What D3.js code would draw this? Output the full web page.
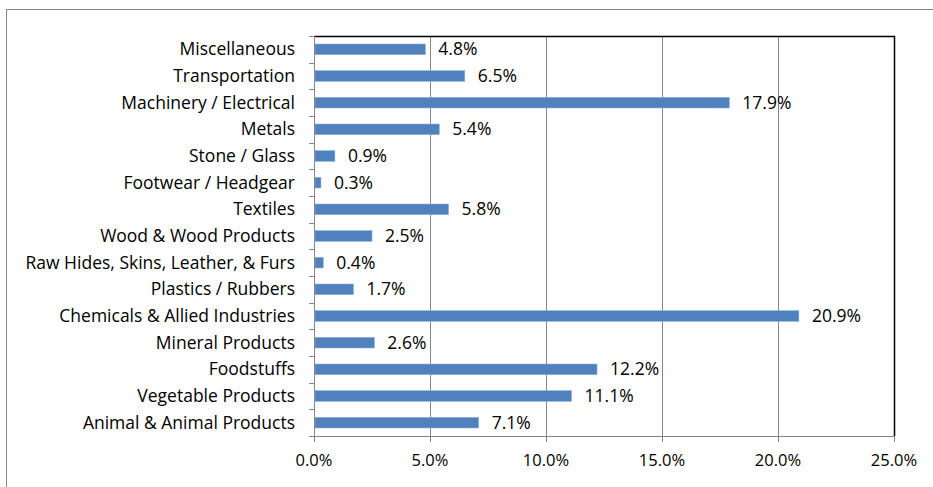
<!DOCTYPE html>
<html>
<head>
<meta charset="utf-8">
<script src="https://cdn.jsdelivr.net/npm/d3@7"></script>
<style>
  body { margin: 0; background: #fff; }
  svg { display: block; font-family: "Open Sans", "Noto Sans", sans-serif; }
</style>
</head>
<body>
<div class="chart"></div>
<script>
var categories = [
    "Miscellaneous", "Transportation", "Machinery / Electrical", "Metals",
    "Stone / Glass", "Footwear / Headgear", "Textiles", "Wood & Wood Products",
    "Raw Hides, Skins, Leather, & Furs", "Plastics / Rubbers",
    "Chemicals & Allied Industries", "Mineral Products", "Foodstuffs",
    "Vegetable Products", "Animal & Animal Products"
];
var shares = [4.8, 6.5, 17.9, 5.4, 0.9, 0.3, 5.8, 2.5, 0.4, 1.7, 20.9, 2.6, 12.2, 11.1, 7.1];
var xTicks = [0, 5, 10, 15, 20, 25];

var width = 933, height = 487;
var margin = { top: 36, right: 39, bottom: 51, left: 314 };

var svg = d3.select(".chart").append("svg")
    .attr("width", width)
    .attr("height", height);

// outer chart frame
svg.append("rect")
    .attr("x", 6.5).attr("y", 9.5)
    .attr("width", width + 10).attr("height", height + 10)
    .attr("fill", "none")
    .attr("stroke", "#868686");

var x = d3.scaleLinear().domain([0, 25]).range([margin.left, width - margin.right]);
var y = d3.scaleBand().domain(categories)
    .range([margin.top, height - margin.bottom])
    .paddingInner(0.6).paddingOuter(0.3);
var yEdge = d3.scaleLinear().domain([0, categories.length]).range([margin.top, height - margin.bottom]);

var x0 = x(0), x1 = x(25), y0 = margin.top, y1 = height - margin.bottom;

// gridlines
svg.append("g").selectAll("line")
    .data(xTicks.slice(1, -1))
    .enter().append("line")
    .attr("x1", function(d) { return Math.round(x(d)) + 0.5; })
    .attr("x2", function(d) { return Math.round(x(d)) + 0.5; })
    .attr("y1", y0).attr("y2", y1)
    .attr("stroke", "#868686");

// top and right border of plot area
svg.append("path")
    .attr("d", "M" + x0 + "," + (y0 + 0.5) + "H" + (x1 + 0.5) + "V" + y1)
    .attr("fill", "none")
    .attr("stroke", "#000")
    .attr("stroke-width", 1.5);

// bars
svg.append("g").selectAll("rect")
    .data(shares)
    .enter().append("rect")
    .attr("x", x0 + 1)
    .attr("y", function(d, i) { return y(categories[i]); })
    .attr("width", function(d) { return x(d) - x0 - 1; })
    .attr("height", y.bandwidth())
    .attr("fill", "#4F81BD")
    .attr("stroke", "#8EB0DA")
    .attr("stroke-width", 0.6);

// value labels
svg.append("g").selectAll("text")
    .data(shares)
    .enter().append("text")
    .attr("x", function(d) { return x(d) + 13; })
    .attr("y", function(d, i) { return y(categories[i]) + y.bandwidth() / 2; })
    .attr("dy", "0.35em")
    .style("font-size", "17.5px")
    .attr("fill", "#000")
    .text(function(d) { return d.toFixed(1) + "%"; });

// category axis
var yAxis = svg.append("g");
yAxis.append("line")
    .attr("x1", x0 + 0.5).attr("x2", x0 + 0.5)
    .attr("y1", y0).attr("y2", y1 + 5)
    .attr("stroke", "#868686");
yAxis.selectAll(".tick")
    .data(d3.range(categories.length + 1))
    .enter().append("line")
    .attr("x1", x0 - 5).attr("x2", x0)
    .attr("y1", function(d) { return Math.round(yEdge(d)) + 0.5; })
    .attr("y2", function(d) { return Math.round(yEdge(d)) + 0.5; })
    .attr("stroke", "#868686");
yAxis.selectAll("text")
    .data(categories)
    .enter().append("text")
    .attr("x", x0 - 19)
    .attr("y", function(d) { return y(d) + y.bandwidth() / 2; })
    .attr("dy", "0.35em")
    .attr("text-anchor", "end")
    .style("font-size", "17.5px")
    .text(function(d) { return d; });

// value axis
var xAxis = svg.append("g");
xAxis.append("line")
    .attr("x1", x0).attr("x2", x1)
    .attr("y1", y1 + 0.5).attr("y2", y1 + 0.5)
    .attr("stroke", "#868686");
xAxis.selectAll(".tick")
    .data(xTicks)
    .enter().append("line")
    .attr("x1", function(d) { return Math.round(x(d)) + 0.5; })
    .attr("x2", function(d) { return Math.round(x(d)) + 0.5; })
    .attr("y1", y1).attr("y2", y1 + 6)
    .attr("stroke", "#868686");
xAxis.selectAll("text")
    .data(xTicks)
    .enter().append("text")
    .attr("x", function(d) { return x(d); })
    .attr("y", y1 + 30)
    .attr("text-anchor", "middle")
    .style("font-size", "16.5px")
    .text(function(d) { return d.toFixed(1) + "%"; });
</script>
</body>
</html>
